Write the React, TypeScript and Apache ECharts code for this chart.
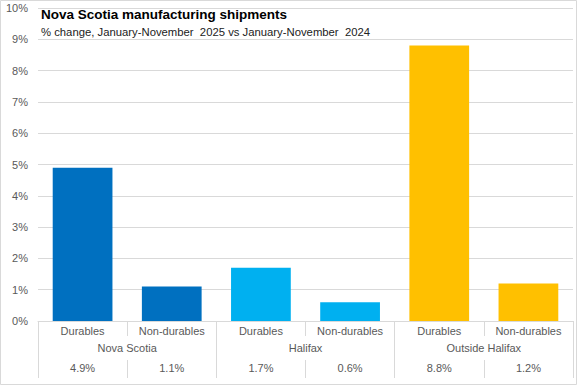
import React, { useEffect, useRef } from "react";
import * as echarts from "echarts";

const categories = ["Durables", "Non-durables", "Durables", "Non-durables", "Durables", "Non-durables"];
const groups = ["Nova Scotia", "Halifax", "Outside Halifax"];
const values = [4.9, 1.1, 1.7, 0.6, 8.8, 1.2];
const barColors = ["#0070C0", "#0070C0", "#00B0F0", "#00B0F0", "#FFC000", "#FFC000"];
const titleText = "Nova Scotia manufacturing shipments";
const subtitleText = "% change, January-November  2025 vs January-November  2024";

const FONT = "'Liberation Sans', Arial, sans-serif";
const LABEL = "#595959";
const GRIDC = "#D9D9D9";

export default function App() {
  const ref = useRef<HTMLDivElement>(null);
  useEffect(() => {
    if (!ref.current) return;
    const chart = echarts.init(ref.current, null, { renderer: "svg" });
    chart.setOption({
      animation: false,
      backgroundColor: "#fff",
      textStyle: { fontFamily: FONT },
      title: {
        text: titleText,
        subtext: subtitleText,
        left: 36,
        top: 2,
        itemGap: 5,
        textStyle: { fontFamily: FONT, fontSize: 13.5, fontWeight: "bold", color: "#000" },
        subtextStyle: { fontFamily: FONT, fontSize: 11.3, color: "#222" },
      },
      grid: { left: 38, right: 4, top: 8, bottom: 64, containLabel: false },
      yAxis: {
        type: "value",
        min: 0,
        max: 10,
        interval: 1,
        axisLabel: { formatter: "{value}%", color: LABEL, fontSize: 11, margin: 10 },
        splitLine: { lineStyle: { color: GRIDC, width: 1 } },
        axisLine: { show: false },
        axisTick: { show: false },
      },
      xAxis: [
        {
          type: "category",
          data: categories,
          position: "bottom",
          axisLine: { show: true, lineStyle: { color: GRIDC } },
          axisTick: { show: true, interval: 0, length: 15, lineStyle: { color: GRIDC } },
          axisLabel: { interval: 0, color: LABEL, fontSize: 11, margin: 4 },
        },
        {
          type: "category",
          data: groups,
          position: "bottom",
          axisLine: { show: false },
          axisTick: { show: true, interval: 0, length: 57, lineStyle: { color: GRIDC } },
          axisLabel: { interval: 0, color: LABEL, fontSize: 11, margin: 21 },
        },
        {
          type: "category",
          data: values.map((v) => v.toFixed(1) + "%"),
          position: "bottom",
          offset: 39,
          axisLine: { show: false },
          axisTick: { show: true, interval: 0, length: 18, lineStyle: { color: GRIDC } },
          axisLabel: { interval: 0, color: LABEL, fontSize: 11, margin: 2 },
        },
      ],
      series: [
        {
          type: "bar",
          xAxisIndex: 0,
          barCategoryGap: "33%",
          data: values.map((v, i) => ({ value: v, itemStyle: { color: barColors[i] } })),
        },
      ],
      graphic: [
        {
          type: "rect",
          shape: { x: 0.5, y: 0.5, width: 576, height: 384 },
          style: { fill: "none", stroke: GRIDC, lineWidth: 1 },
          silent: true,
        },
      ],
    });
    return () => chart.dispose();
  }, []);
  return <div ref={ref} style={{ position: "absolute", left: 0, top: 0, width: 577, height: 385 }} />;
}
